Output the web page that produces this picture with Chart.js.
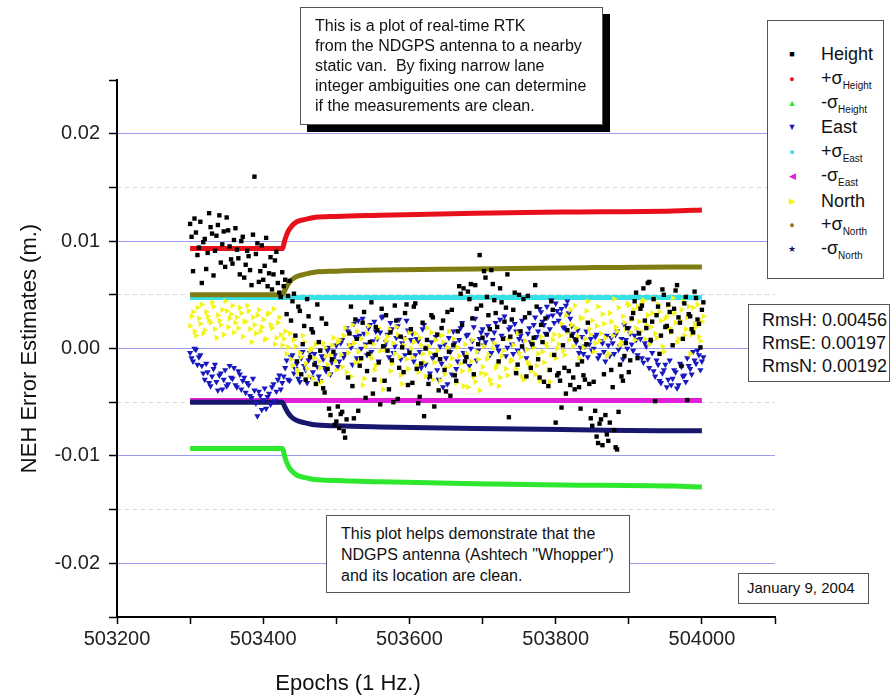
<!DOCTYPE html>
<html>
<head>
<meta charset="utf-8">
<script src="https://cdn.jsdelivr.net/npm/chart.js@4.4.1/dist/chart.umd.min.js"></script>
<style>
  body { margin: 0; background: #fff; font-family: Arial, "Liberation Sans", sans-serif; color: #111; }
  #wrap { position: relative; width: 891px; height: 700px; overflow: hidden; }
  #myChart { position: absolute; left: 0; top: 0; }
  .box { position: absolute; background: #fff; border: 1px solid #555; box-sizing: border-box; }
  #note1 { left: 300px; top: 7px; width: 303px; height: 118px; padding: 8px 0 0 14px; font-size: 16px; line-height: 20px; box-shadow: 7px 7px 0 #000; }
  #note2 { left: 326px; top: 515px; width: 304px; height: 78px; padding: 7px 0 0 14px; font-size: 16px; line-height: 21px; }
  #rms { left: 748px; top: 304px; width: 142px; height: 78px; padding: 4px 0 0 13px; font-size: 18px; line-height: 23px; }
  #date { left: 738px; top: 573px; width: 131px; height: 31px; padding: 5px 0 0 8px; font-size: 15px; }
  #legend { left: 767px; top: 20px; width: 117px; height: 259px; padding-top: 21px; }
  .row { position: relative; height: 24.4px; }
  .sym { position: absolute; left: 24px; top: 50%; transform: translate(-50%, -50%); font-size: 9px; line-height: 1; }
  .lab { position: absolute; left: 53px; top: 50%; transform: translateY(-50%); font-size: 18px; white-space: nowrap; }
  .lab sub { font-size: 10px; vertical-align: -5px; }
  #xtitle { position: absolute; left: 348px; top: 683px; transform: translate(-50%, -50%); font-size: 22px; white-space: nowrap; }
</style>
</head>
<body>
<div id="wrap">
  <canvas id="myChart" width="891" height="700"></canvas>
  <div class="box" id="note1">This is a plot of real-time RTK<br>from the NDGPS antenna to a nearby<br>static van.&nbsp; By fixing narrow lane<br>integer ambiguities one can determine<br>if the measurements are clean.</div>
  <div class="box" id="note2">This plot helps demonstrate that the<br>NDGPS antenna (Ashtech "Whopper")<br>and its location are clean.</div>
  <div class="box" id="legend"></div>
  <div class="box" id="rms">RmsH: 0.00456<br>RmsE: 0.00197<br>RmsN: 0.00192</div>
  <div class="box" id="date">January 9, 2004</div>
  <div id="xtitle">Epochs (1 Hz.)</div>
</div>
<script>
// epocas das amostras (1 Hz): duas leituras intercaladas, uma a cada 4 s cada
const epochStart = 503300;
const epochStep = 4;

// valores em mm (epocas 503300, 503304, ...)
const heightMm = [
  11.6, 7.2, 10.8, 9.4, 6.1, 10.2, 8.9, 11.3, 6.8, 10.5, 12.4, 9.7, 7.6, 11.0, 8.3, 10.1,
  9.2, 6.9, 10.4, 7.8, 8.6, 5.9, 16.0, 9.8, 7.2, 6.4, 10.3, 7.0, 5.5, 8.2, 6.1, 4.8,
  5.8, 3.2, 6.3, 4.4, 1.2, 3.9, -2.4, 2.1, 4.6, -0.8, 1.5, -3.3, 0.6, 2.8, -4.1, -1.9, -6.2, -0.3, -6.8,
  -7.4, -5.9, -8.3, -2.7, 3.9, -6.5, 0.9, -1.6, 2.4, -4.6, -0.5, 4.3, -2.9, 1.7, -5.2, 0.2, 3.1, -3.8, -1.1, 4.0, -4.7, 1.1, -2.2, 4.1, -0.4,
  -3.2, 4.2, -5.1, -1.4, -6.3, 0.8, -2.6, 2.9, -0.6, -3.9, 1.9, -2.0, 3.4, -4.4, 0.3, -3.0, 5.8, 2.2, -1.2, 5.3, 6.0, -2.4, 3.7, 8.7, 1.0,
  6.6, 3.1, 7.3, 4.5, 2.0, 5.6, 0.9, 3.8, -6.4, 2.7, 5.2, -1.5, 1.6, 4.6, -2.6, 3.3, 0.4, 5.9, -1.0, 2.2, -3.1, 1.3, -2.0, 3.6, -6.9,
  -2.3, -5.5, -1.8, 1.7, -3.4, -2.7, 0.8, -3.6, -1.2, -2.9, 2.4, -6.5, -3.1, -8.2, -7.0, -9.0, -6.2, -8.6, -2.0, -7.6, -9.4, -1.5, -3.0, 0.5, -2.2,
  2.8, 4.4, -0.9, 3.7, 5.6, 1.9, 6.2, 2.5, -4.9, 3.9, 1.2, 5.0, 2.1, 3.4, 0.3, 5.4, 2.9, -1.6, 4.2, -4.8, 3.0, 1.5, 4.7, 2.3, 3.6
];
const eastMm = [
  -0.4, -1.2, -0.1, -0.8, -1.6, -2.9, -2.2, -3.5, -1.9, -3.1, -2.5, -3.8, -2.0, -3.3, -2.7, -1.8,
  -3.6, -2.4, -3.0, -4.1, -3.4, -4.6, -3.9, -6.3, -4.4, -4.8, -5.6, -4.2, -3.6, -4.9, -2.9, -3.8,
  -2.6, -1.1, -3.0, -0.6, -1.9, -2.8, -0.9, -1.6, -3.2, -0.4, -2.2, -1.3, -2.6, -0.7, -1.8, -0.2, -2.4, -1.0, 0.3,
  -1.2, 0.8, -0.5, 1.6, 0.1, 2.3, -0.9, 1.2, 2.8, 0.4, 1.9, -0.3, 2.5, 0.9, 1.5, 3.0, 0.6, -0.8, 1.8, 0.2, 2.1, -1.0, 1.0, 2.6, -0.2,
  1.4, -0.6, 0.7, -1.8, 2.2, 0.1, -2.3, -0.9, 1.1, -2.9, -1.4, 0.4, -3.3, -0.3, 1.6, -1.9, 0.8, 2.4, -0.7, 1.3, 0.0, 2.0, -1.1, 0.9, 1.8,
  0.6, 2.1, -0.4, 1.5, 0.2, 2.7, 1.0, -0.7, 1.8, 0.4, 2.3, -0.2, 1.2, 0.7, -0.9, 1.9, 0.3, 2.9, 1.6, 3.4, 2.2, 3.9, 1.8, 3.1, 4.2,
  2.6, 3.7, 1.9, 4.4, 2.8, 1.4, 0.6, -0.4, 1.1, 0.2, -0.8, 0.9, 0.0, 1.3, -0.6, 0.5, -1.2, 0.3, 1.0, -0.5, 1.6, 0.2, -1.0, 0.8, 1.9,
  0.4, 1.2, -0.6, 0.9, -1.3, 0.2, -1.8, -0.4, -2.6, -1.5, -3.2, -2.0, -3.6, -1.1, -2.8, -2.2, -3.4, -1.7, -2.5, -0.9, -1.9, -0.3, -1.4, -0.6, -1.2
];
const northMm = [
  2.1, 3.4, 1.2, 2.8, 4.1, 1.7, 3.0, 2.4, 3.9, 1.0, 2.6, 3.6, 4.4, 2.0, 3.2, 1.5,
  2.9, 3.8, 1.1, 2.5, 3.5, 0.6, 2.2, 3.1, 1.6, 2.7, 0.9, 3.3, 1.9, 0.4, 2.4, 1.3,
  0.9, -0.5, 1.4, -1.6, 0.2, -2.3, -0.8, 0.6, -1.9, -0.2, -2.8, 0.4, -1.2, -3.1, 0.1, -1.5, -0.6, 1.0, -2.0,
  0.8, -1.7, 1.9, -0.4, -2.6, 0.5, 1.6, -1.1, -3.4, 0.2, 2.1, -0.9, -2.0, 1.0, -0.2, -3.8, 0.7, 1.8, -1.4, -0.5, 1.3, -2.5, 0.3, -1.0, 1.5,
  -0.8, 1.4, -2.2, 0.3, -1.3, 1.9, -0.4, -2.9, 0.8, -1.0, 1.2, -2.4, 0.1, -1.6, 0.9, -3.2, -0.7, -2.1, 0.4, -3.6, -1.2, -2.6, -0.3, -3.9, -1.7,
  -2.4, -0.6, -3.3, 0.5, -1.5, -2.7, -0.2, -1.9, 0.9, -1.1, -2.2, 1.4, -0.8, -2.9, -0.1, -1.6, 0.6, -2.4, -0.5, 1.1, -1.3, 0.2, -3.1, 0.8, -0.9,
  0.4, 2.3, -0.6, 1.5, 3.6, 0.2, 1.9, -0.9, 2.8, 0.9, 4.4, 1.3, -0.3, 2.1, 0.7, 3.2, 1.0, -0.5, 2.5, 4.6, 1.6, 0.3, 3.0, 1.8, 4.0,
  2.7, 0.8, 3.9, 1.6, 4.5, 2.2, 0.4, 3.3, 1.4, 4.1, 2.6, -0.3, 3.0, 1.9, 4.7, 2.4, 0.9, 3.6, 1.2, 2.9, -0.5, 3.8, 2.0, 1.1, 2.5
];

// segunda leitura, epocas 503302, 503306, ...
const heightMm2 = [
  10.4, 12.1, 8.7, 11.8, 9.9, 7.4, 12.6, 10.7, 9.1, 11.5, 8.0, 10.9, 12.2, 9.5, 7.9, 11.2,
  8.4, 10.0, 6.6, 9.1, 7.3, 10.6, 8.8, 6.2, 9.6, 7.7, 5.8, 8.5, 6.9, 9.0, 5.2, 7.1,
  6.4, 4.9, 2.6, 5.1, -1.2, 3.5, 0.4, -2.9, 3.0, 1.8, -1.5, 4.1, -0.2, -3.7, 2.3, -5.6, -1.0, -7.1, -5.4,
  -6.1, -7.7, -6.6, 1.4, -3.5, 2.7, -5.8, -0.9, 3.4, -2.1, 0.6, -4.2, 2.0, -1.3, 3.7, -3.0, -0.2, 1.5, -5.0, 2.6, -1.8, 0.1, 3.3, -3.4, 1.8,
  3.9, -1.9, -4.5, 2.4, 0.0, -3.3, 3.1, -5.4, 1.3, -1.0, 2.6, -4.0, -0.3, 3.6, -2.5, 1.6, 5.1, 5.6, -0.8, 4.6, 2.8, 5.9, 0.4, 4.0, 7.2,
  4.8, 1.8, 6.0, 3.3, -1.2, 4.3, 2.5, 6.9, 1.1, 3.6, -2.3, 5.0, 0.2, 2.9, 4.9, -1.8, 1.0, 3.9, -2.7, 0.6, 2.8, -3.5, 4.4, -0.6, -2.5,
  -3.0, 0.3, -4.2, -2.1, 1.2, -3.8, -1.5, -5.6, -2.5, 0.4, -3.3, -7.2, -5.8, -8.8, -6.6, -2.4, -8.0, -6.9, -3.6, -9.2, -5.9, -2.6, -0.7, 1.9, -1.1,
  3.3, 5.2, 1.4, 4.0, 2.6, 6.1, 0.8, 4.6, 3.1, -0.5, 5.5, 2.0, 4.1, 1.6, 3.7, 5.9, 2.4, 0.9, 4.8, 3.2, 1.8, 5.3, 2.7, 0.1, 4.3
];
const eastMm2 = [
  -0.9, 0.0, -1.5, -0.6, -2.3, -1.4, -3.2, -2.6, -1.5, -3.9, -2.3, -2.9, -3.5, -1.6, -2.8, -3.4,
  -2.1, -3.8, -2.7, -3.2, -4.4, -2.8, -5.1, -4.0, -5.7, -3.7, -4.5, -5.2, -3.3, -4.0, -2.5, -3.2,
  -1.8, -2.9, -0.8, -2.3, -1.4, -3.1, -0.3, -2.0, -1.1, -2.7, -0.5, -1.7, -3.0, -1.0, -2.1, 0.1, -1.3, -0.6, -1.7,
  0.5, -0.8, 1.9, 0.3, -1.5, 1.1, 2.6, 0.0, 1.4, -0.6, 2.2, 0.7, 1.6, -1.2, 2.9, 0.2, 1.3, 2.4, -0.4, 1.0, 2.7, 0.5, -0.6, 1.7, 0.8,
  -1.2, 0.9, -0.3, 1.8, -1.5, -2.7, 0.6, -0.6, -2.0, 0.2, -3.6, -0.9, 1.0, -2.4, 0.5, -1.2, 1.9, -0.4, 1.2, -1.6, 0.7, 2.8, -0.2, 1.5, 0.3,
  1.3, -0.6, 0.8, 2.4, -0.2, 1.2, 3.0, 0.1, 2.0, -0.5, 1.6, 0.9, 2.6, -0.1, 1.4, 0.6, 2.2, 1.1, 3.7, 2.5, 1.4, 3.0, 4.5, 2.4, 3.5,
  3.2, 2.0, 4.0, 3.3, 2.1, 0.9, 1.7, 0.1, -0.5, 1.6, 0.4, -0.2, 1.1, -0.9, 0.7, -0.3, 1.2, -0.7, 0.5, 1.3, -0.1, 0.9, 2.2, 0.0, 1.4,
  -0.2, 0.8, 1.5, -0.9, 0.5, -1.0, 0.6, -2.1, -1.1, -3.0, -2.3, -1.5, -2.9, -3.4, -2.0, -3.7, -1.4, -2.6, -3.1, -1.6, -2.4, -1.1, -0.2, -2.0, -0.8
];
const northMm2 = [
  3.0, 1.6, 3.8, 2.3, 1.4, 3.4, 2.6, 4.3, 1.8, 3.1, 2.2, 1.3, 3.5, 2.8, 4.0, 2.4,
  1.9, 3.3, 2.5, 4.0, 1.8, 2.9, 1.4, 3.6, 2.0, 0.8, 3.2, 2.2, 3.7, 1.0, 2.9, 0.3,
  1.6, 0.1, -1.0, 0.8, -2.0, -0.4, 1.2, -1.4, -2.6, 0.0, -0.9, -3.3, -1.8, 0.5, -0.7, -2.4, 0.3, -1.2, 0.6,
  -0.6, 1.2, -2.2, 0.3, 2.2, -1.3, -0.3, 0.9, -2.8, 1.4, -0.6, 0.4, -1.6, 1.9, -3.0, -0.1, 1.1, -2.1, 0.5, 2.0, -0.8, -3.3, 0.9, -1.9, 0.0,
  0.6, -1.6, 1.0, -0.5, -2.6, 0.2, 1.5, -1.3, -0.2, -3.0, 0.6, -1.8, 1.6, -0.9, -2.4, 0.1, -1.4, -3.5, -0.5, -2.0, 0.8, -3.1, -1.0, -2.3, 0.2,
  -1.0, -2.9, 0.0, -1.8, -3.5, -0.7, 0.9, -2.5, -1.2, 0.3, -1.9, -0.4, -2.6, 0.7, -1.3, -2.1, 0.1, -1.6, -3.0, -0.3, 0.5, -2.0, -0.6, 1.3, 0.0,
  1.2, -0.2, 3.1, 0.8, 2.2, 4.0, 1.1, 2.9, 0.1, 3.5, 1.8, 2.6, 0.5, 3.9, 1.4, 2.3, -0.7, 3.3, 1.2, 2.0, 3.8, 0.6, 2.4, 4.2, 1.5,
  3.6, 1.9, 2.5, 4.3, 0.9, 3.1, 2.0, 4.6, 1.0, 3.4, 0.2, 2.8, 4.0, 1.5, 3.3, 0.6, 2.6, 4.4, 1.8, 3.9, 1.3, 2.3, 4.1, 0.7, 3.0
];

// curvas de sigma (mm)
const sigmaEpochs = [503300, 503426, 503430, 503434, 503439, 503446, 503456, 503470, 503500, 503560, 503690, 503810, 503960, 504000];
const plusSigHeight = [9.3, 9.3, 10.2, 10.9, 11.4, 11.8, 12.0, 12.2, 12.3, 12.4, 12.6, 12.7, 12.8, 12.9];
const minusSigHeight = [-9.3, -9.3, -10.2, -10.9, -11.4, -11.8, -12.0, -12.2, -12.3, -12.4, -12.6, -12.7, -12.8, -12.9];
const plusSigEast = [4.75, 4.75, 4.75, 4.75, 4.75, 4.75, 4.75, 4.75, 4.75, 4.75, 4.75, 4.75, 4.75, 4.75];
const minusSigEast = [-4.85, -4.85, -4.85, -4.85, -4.85, -4.85, -4.85, -4.85, -4.85, -4.85, -4.85, -4.85, -4.85, -4.85];
const plusSigNorth = [5.0, 5.0, 5.5, 6.0, 6.4, 6.7, 6.9, 7.1, 7.2, 7.3, 7.4, 7.5, 7.6, 7.6];
const minusSigNorth = [-5.0, -5.0, -5.5, -6.0, -6.4, -6.7, -6.9, -7.1, -7.2, -7.3, -7.45, -7.55, -7.65, -7.65];

const legendItems = [
  { sym: '\u25A0', color: '#000000', text: 'Height', sub: '' },
  { sym: '\u25CF', color: '#e8101a', text: '+\u03C3', sub: 'Height' },
  { sym: '\u25B2', color: '#2ee82e', text: '-\u03C3', sub: 'Height' },
  { sym: '\u25BC', color: '#1818c0', text: 'East', sub: '' },
  { sym: '\u25CF', color: '#35e0e6', text: '+\u03C3', sub: 'East' },
  { sym: '\u25C0', color: '#e020d8', text: '-\u03C3', sub: 'East' },
  { sym: '\u25B6', color: '#f4f41c', text: 'North', sub: '' },
  { sym: '\u25CF', color: '#7d7d14', text: '+\u03C3', sub: 'North' },
  { sym: '\u2605', color: '#17176e', text: '-\u03C3', sub: 'North' }
];

function toPoints(vals, offset) {
  return vals.map((v, i) => ({ x: epochStart + offset + i * epochStep, y: v / 1000 }));
}

function toLine(vals) {
  return vals.map((v, i) => ({ x: sigmaEpochs[i], y: v / 1000 }));
}

function cloud(label, vals, vals2, color, style, rot, r, order) {
  return { label, data: [...toPoints(vals, 0), ...toPoints(vals2, 2)], backgroundColor: color, borderWidth: 0,
    pointStyle: style, rotation: rot, pointRadius: r, order };
}

function sigLine(label, vals, color, order) {
  return { label, data: toLine(vals), borderColor: color, backgroundColor: color, showLine: true, pointRadius: 0,
    borderWidth: 5, cubicInterpolationMode: 'monotone', fill: false, order };
}

function isMajor(v) {
  const m = Math.round(v * 1000);
  return m % 10 === 0 && Math.abs(m) < 25;
}

function isMinor(v) {
  const m = Math.round(v * 1000);
  return m % 10 !== 0 && Math.abs(m) < 25;
}

const fontFamily = 'Arial, "Liberation Sans", sans-serif';

const ctx = document.getElementById('myChart').getContext('2d');
const chart = new Chart(ctx, {
  type: 'scatter',
  data: {
    datasets: [
      cloud('Height', heightMm, heightMm2, '#000000', 'rect', 0, 3.1, 1),
      sigLine('+σHeight', plusSigHeight, '#e8101a', 20),
      sigLine('-σHeight', minusSigHeight, '#2ee82e', 19),
      cloud('East', eastMm, eastMm2, '#1818c0', 'triangle', 180, 3.6, 3),
      sigLine('+σEast', plusSigEast, '#35e0e6', 18),
      sigLine('-σEast', minusSigEast, '#e020d8', 17),
      cloud('North', northMm, northMm2, '#f4f41c', 'triangle', 90, 3.6, 2),
      sigLine('+σNorth', plusSigNorth, '#7d7d14', 16),
      sigLine('-σNorth', minusSigNorth, '#17176e', 15)
    ]
  },
  options: {
    responsive: false,
    animation: false,
    devicePixelRatio: 1,
    layout: { padding: { left: 17, right: 116, top: 80, bottom: 43 } },
    plugins: { legend: { display: false }, tooltip: { enabled: false } },
    scales: {
      x: {
        type: 'linear',
        min: 503200,
        max: 504100,
        afterFit: s => { s.height = 40; },
        ticks: {
          stepSize: 100,
          autoSkip: false,
          maxRotation: 0,
          padding: 3,
          color: '#222',
          font: { size: 20, family: fontFamily },
          callback: v => (v % 200 === 0 && v <= 504000 ? String(v) : '')
        },
        grid: { drawOnChartArea: false, drawTicks: true, tickLength: 7, tickColor: '#000', tickWidth: 1.5 },
        border: { display: true, color: '#000', width: 2 }
      },
      y: {
        min: -0.025,
        max: 0.025,
        afterFit: s => { s.width = 100; },
        ticks: {
          stepSize: 0.005,
          autoSkip: false,
          padding: 9,
          color: '#222',
          font: { size: 20, family: fontFamily },
          callback: v => (isMajor(v) ? (Math.round(v * 1000) / 1000).toFixed(2) : '')
        },
        title: { display: true, text: 'NEH Error Estimates (m.)', color: '#111', padding: 0, font: { size: 22, family: fontFamily } },
        grid: {
          color: c => (isMajor(c.tick.value) ? '#9a9aee' : 'rgba(0,0,0,0)'),
          lineWidth: 1,
          tickLength: 8,
          tickColor: '#000',
          tickWidth: 1.5
        },
        border: { display: true, color: '#000', width: 2 }
      },
      y2: {
        position: 'left',
        min: -0.025,
        max: 0.025,
        afterFit: s => { s.width = 0; },
        afterBuildTicks: s => { s.ticks = s.ticks.filter(t => isMinor(t.value)); },
        ticks: { display: false, stepSize: 0.005 },
        grid: { color: '#d4d4d4', lineWidth: 1, drawTicks: false },
        border: { display: false, dash: [4, 4] }
      }
    }
  }
});

// legenda em HTML por causa dos subscritos
const legendBox = document.getElementById('legend');
legendItems.forEach(item => {
  const row = document.createElement('div');
  row.className = 'row';
  const sub = item.sub ? `<sub>${item.sub}</sub>` : '';
  row.innerHTML = `<span class="sym" style="color:${item.color}">${item.sym}</span><span class="lab">${item.text}${sub}</span>`;
  legendBox.appendChild(row);
});
</script>
</body>
</html>
